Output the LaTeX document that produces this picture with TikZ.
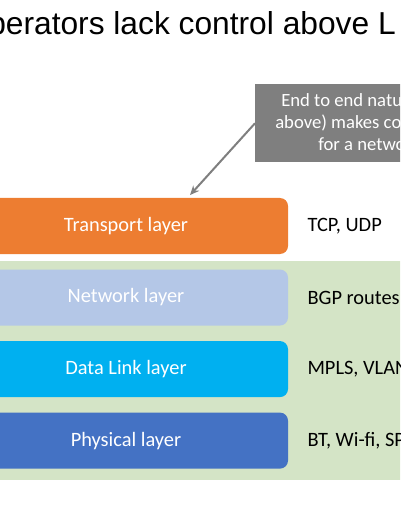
\documentclass[tikz,border=0pt]{standalone}
\usepackage{fontspec}
\setmainfont{Carlito}
\newfontfamily\titlefont{Liberation Sans}
\usetikzlibrary{positioning,arrows.meta}
\definecolor{transportc}{HTML}{ED7D31}
\definecolor{networkc}{HTML}{B4C7E7}
\definecolor{linkc}{HTML}{00B0F0}
\definecolor{physc}{HTML}{4472C4}
\definecolor{bandc}{HTML}{D4E4C6}
\definecolor{calloutc}{HTML}{7F7F7F}
\begin{document}
\begin{tikzpicture}[x=0.75pt,y=-0.75pt,>={Stealth[length=7pt,width=6pt]},
  layer/.style={rounded corners=6pt,minimum width=243pt,minimum height=42pt,inner sep=0pt,text=white,font=\fontsize{15.3}{18}\selectfont},
  proto/.style={inner sep=0pt,font=\fontsize{15.3}{18}\selectfont},
  note/.style={anchor=base west,text=white,inner sep=0pt,font=\fontsize{14}{17}\selectfont}]
\useasboundingbox (0,0) rectangle (400,516);
\clip (0,0) rectangle (400,516);
% title
\node[anchor=base east,inner sep=0pt,font=\titlefont\fontsize{23.8}{28}\selectfont] (title) at (396,35) {operators lack control above L};
% green band behind the lower layers
\fill[bandc] (-10,261) rectangle (410,480);
% layers
\node[layer,fill=transportc] (transport) at (126,226) {Transport layer};
\node[layer,fill=networkc,below=11.25pt of transport] (network) {Network layer};
\node[layer,fill=linkc,below=11.25pt of network] (link) {Data Link layer};
\node[layer,fill=physc,below=11.25pt of link] (phys) {Physical layer};
% protocols
\node[proto,right=14.25pt of transport] (tcp) {TCP, UDP};
\node[proto,right=14.25pt of network] (bgp) {BGP routes};
\node[proto,right=14.25pt of link] (mpls) {MPLS, VLAN};
\node[proto,right=14.25pt of phys] (bt) {BT, Wi-fi, SP};
% callout
\node[fill=calloutc,minimum width=200pt,minimum height=58.5pt,anchor=north west,inner sep=0pt] (callout) at (255,84) {};
\node[note] (note1) at (281,107) {End to end natu};
\node[note] (note2) at (275,129) {above) makes co};
\node[note] (note3) at (318,151) {for a netwo};
\draw[->,draw=calloutc,fill=calloutc,line width=1.5pt] (callout.west) -- ([xshift=48pt,yshift=2pt]transport.north);
\end{tikzpicture}
\end{document}
